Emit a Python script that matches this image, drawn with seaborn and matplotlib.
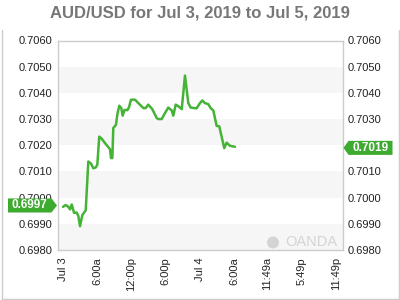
import matplotlib
matplotlib.use("Agg")
import matplotlib.pyplot as plt
import matplotlib.transforms as mtransforms
from matplotlib.patches import Polygon, Circle
from matplotlib.lines import Line2D
import seaborn as sns
import pandas as pd

# ---- data (hours since Jul 3 00:00) ----
hours = [0, 0.48, 0.93, 1.23, 1.53, 1.93, 2.40, 2.68, 2.98, 3.38, 3.98, 4.43, 4.90,
         5.31, 5.73, 6.01, 6.35, 6.78, 7.36, 7.93, 8.23, 8.41, 8.64, 8.81, 9.28,
         9.51, 9.86, 10.21, 10.45, 10.77, 11.27, 11.56, 11.91, 12.62, 13.19, 14.07,
         14.48, 14.94, 15.64, 16.41, 16.70, 17.29, 17.87, 18.44, 19.04, 19.32, 19.74,
         20.20, 20.80, 21.37, 21.95, 22.36, 22.95, 23.41, 24.00, 24.40, 24.87, 25.45,
         25.86, 26.33, 26.92, 27.38, 27.79, 28.25, 28.67, 29.25, 30.13]
rates = [0.69965, 0.69972, 0.69965, 0.69955, 0.69974, 0.69942, 0.69943, 0.69930,
         0.69891, 0.69933, 0.69952, 0.70138, 0.70130, 0.70112, 0.70115, 0.70126,
         0.70233, 0.70225, 0.70208, 0.70193, 0.70185, 0.70151, 0.70151, 0.70266,
         0.70278, 0.70317, 0.70351, 0.70342, 0.70313, 0.70335, 0.70334, 0.70345,
         0.70374, 0.70374, 0.70361, 0.70342, 0.70342, 0.70355, 0.70338, 0.70304,
         0.70300, 0.70300, 0.70323, 0.70344, 0.70333, 0.70313, 0.70355, 0.70349,
         0.70338, 0.70466, 0.70361, 0.70344, 0.70342, 0.70341, 0.70361, 0.70371,
         0.70361, 0.70357, 0.70342, 0.70333, 0.70274, 0.70272, 0.70233, 0.70189,
         0.70210, 0.70198, 0.70194]
xtick_pos = [0, 6, 12, 18, 24, 30, 35.82, 41.82, 47.82]
xtick_labels = ["Jul 3", "6:00a", "12:00p", "6:00p", "Jul 4", "6:00a",
                "11:49a", "5:49p", "11:49p"]
ytick_vals = [0.6980, 0.6990, 0.7000, 0.7010, 0.7020, 0.7030, 0.7040, 0.7050, 0.7060]
open_label = "0.6997"
open_value = 0.6997
last_label = "0.7019"
last_value = 0.7019
title = "AUD/USD for Jul 3, 2019 to Jul 5, 2019"

sns.set_style("white")
plt.rcParams['font.family'] = ['Liberation Sans', 'DejaVu Sans']

LINE = '#44b336'
TAG = '#3daa30'
W, H = 400, 300
fig = plt.figure(figsize=(4, 3), dpi=100)
fig.patch.set_facecolor('white')
ax = fig.add_axes([58 / W, 1 - 250 / H, (342.5 - 58) / W, (250 - 40.5) / H])

# alternating bands
for lo in [0.6980, 0.7000, 0.7020, 0.7040]:
    ax.axhspan(lo, lo + 0.0010, color='#f6f6f6', lw=0, zorder=0)

df = pd.DataFrame({"hour": hours, "rate": rates})
sns.lineplot(data=df, x="hour", y="rate", ax=ax, color=LINE, lw=1.8, zorder=3)

ax.set_xlim(-0.88, 48.97)
ax.set_ylim(0.6980, 0.7060)
ax.set_xlabel("")
ax.set_ylabel("")

ax.set_xticks(xtick_pos)
ax.set_xticklabels(xtick_labels, rotation=90, fontsize=8, color='#222222')
ax.set_yticks(ytick_vals)
ax.set_yticklabels([f"{v:.4f}" for v in ytick_vals], fontsize=8, color='#222222')
ax.tick_params(axis='x', length=3, width=0.8, color='#cccccc', pad=2)
ax.tick_params(axis='y', length=0, pad=4)
ax.tick_params(axis='y', which='both', labelright=True, labelleft=True)

for s in ax.spines.values():
    s.set_color('#cccccc')
    s.set_linewidth(1)
    s.set_visible(True)

# price tags
trans = mtransforms.blended_transform_factory(fig.transFigure, ax.transData)
half = 7 / 26.1 * 0.001
# left tag (open)
lx0, lx1, ltip = 8 / W, 51.5 / W, 57 / W
ax.add_patch(Polygon([[lx0, open_value - half], [lx1, open_value - half],
                      [ltip, open_value], [lx1, open_value + half],
                      [lx0, open_value + half]], closed=True, transform=trans,
                     facecolor=TAG, edgecolor='none', clip_on=False, zorder=5))
ax.text((lx0 + lx1) / 2, open_value, open_label, transform=trans, color='white',
        fontsize=8.5, fontweight='bold', ha='center', va='center', zorder=6)
# right tag (last)
rtip, rx0, rx1 = 343.5 / W, 348.5 / W, 392.5 / W
ax.add_patch(Polygon([[rtip, last_value], [rx0, last_value - half],
                      [rx1, last_value - half], [rx1, last_value + half],
                      [rx0, last_value + half]], closed=True, transform=trans,
                     facecolor=TAG, edgecolor='none', clip_on=False, zorder=5))
ax.text((rx0 + rx1) / 2, last_value, last_label, transform=trans, color='white',
        fontsize=8.5, fontweight='bold', ha='center', va='center', zorder=6)

# watermark
fig.text(311 / W, 1 - 242.5 / H, "OANDA", fontsize=10.5, color='#d4d4d4',
         ha='center', va='center')
fig.patches.append(Circle((273, H - 242.5), 6, transform=None,
                          facecolor='#d4d4d4', edgecolor='none'))

# title
fig.text(0.5, 1 - 12.5 / H, title, fontsize=12, fontweight='bold', color='#777777',
         ha='center', va='center')

# outer frame
for (x0, y0, x1, y1) in [(1.5, 30, 1.5, 298.5), (398.5, 30, 398.5, 298.5),
                         (1.5, 298.5, 398.5, 298.5)]:
    fig.add_artist(Line2D([x0 / W, x1 / W], [1 - y0 / H, 1 - y1 / H],
                          transform=fig.transFigure, color='#cccccc', lw=1))

fig.savefig("out.png", dpi=100)
